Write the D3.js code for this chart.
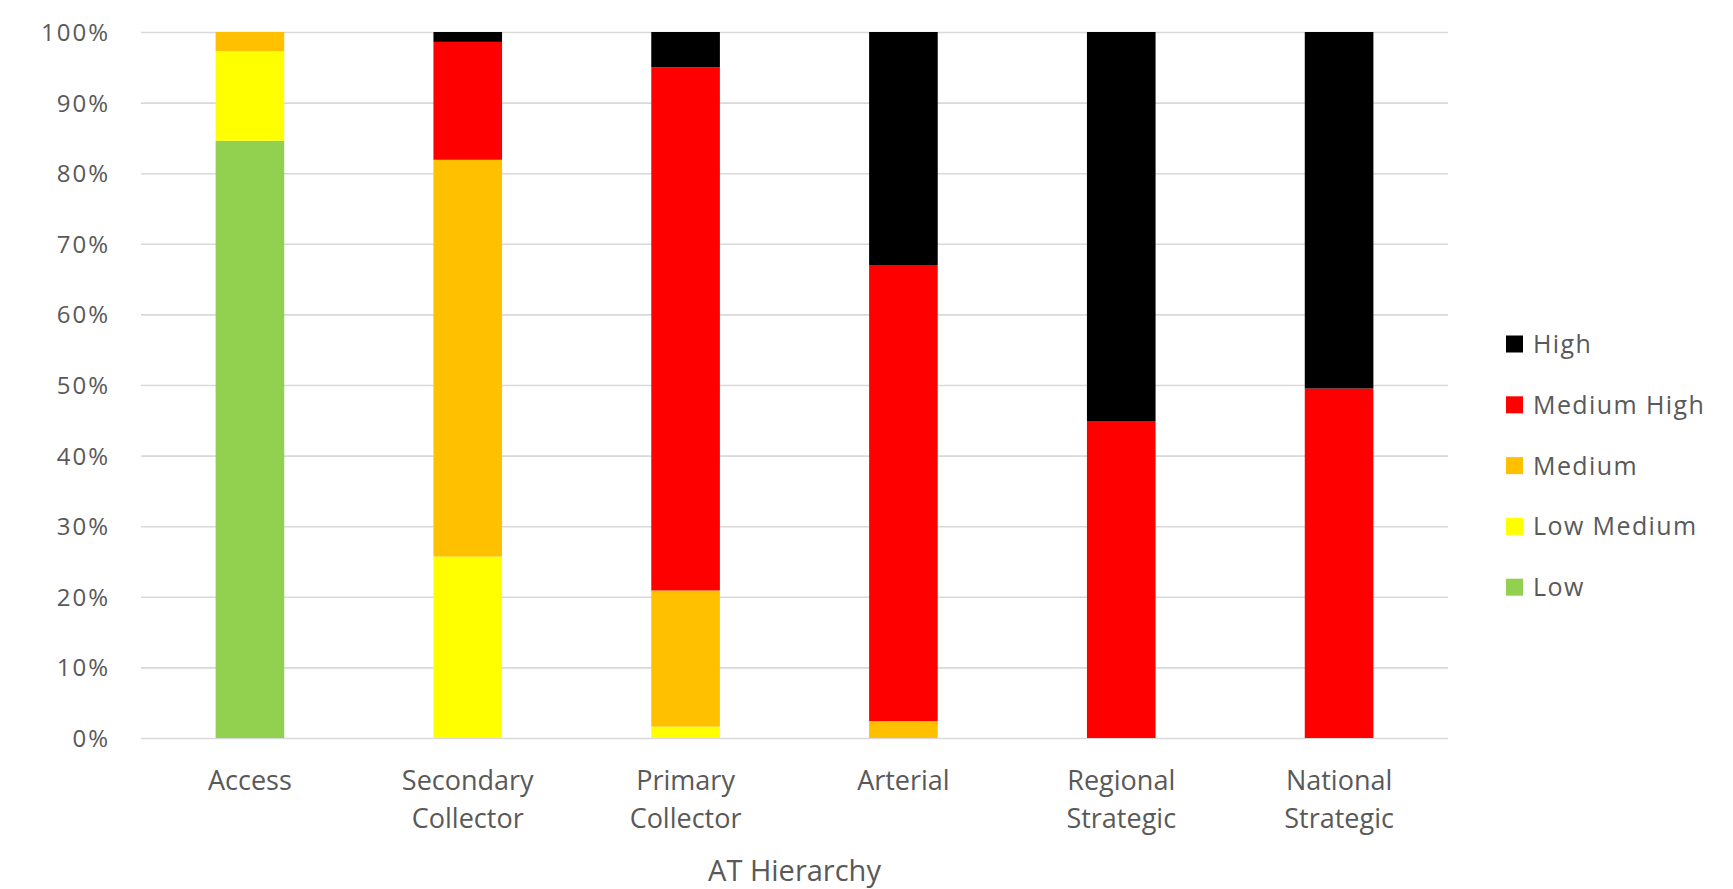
<!DOCTYPE html>
<html>
<head>
<meta charset="utf-8">
<script src="https://cdn.jsdelivr.net/npm/d3@7/dist/d3.min.js"></script>
<style>
  html, body { margin: 0; padding: 0; background: #ffffff; }
  svg { display: block; }
  text { font-family: "Open Sans", "Noto Sans", sans-serif; fill: #595959; }
</style>
</head>
<body>
<svg id="chart" width="1733" height="889"></svg>
<script>
// ---- Data (percent of each category) ----
const categories = ["Access", "Secondary Collector", "Primary Collector", "Arterial", "Regional Strategic", "National Strategic"];
const categoryLines = [["Access"], ["Secondary", "Collector"], ["Primary", "Collector"], ["Arterial"], ["Regional", "Strategic"], ["National", "Strategic"]];
const seriesNames = ["Low", "Low Medium", "Medium", "Medium High", "High"];
const low        = [84.6, 0,    0,    0,    0,    0];
const lowMedium  = [12.7, 25.7, 1.6,  0,    0,    0];
const medium     = [2.7,  56.2, 19.3, 2.4,  0,    0];
const mediumHigh = [0,    16.7, 74.1, 64.6, 44.9, 49.5];
const high       = [0,    1.4,  5.0,  33.0, 55.1, 50.5];
const yTicks = [0, 10, 20, 30, 40, 50, 60, 70, 80, 90, 100];
const legendOrder = ["High", "Medium High", "Medium", "Low Medium", "Low"];
const axisTitle = "AT Hierarchy";

const seriesValues = { "Low": low, "Low Medium": lowMedium, "Medium": medium, "Medium High": mediumHigh, "High": high };
const colors = { "Low": "#92D050", "Low Medium": "#FFFF00", "Medium": "#FFC000", "Medium High": "#FF0000", "High": "#000000" };

const table = categories.map((c, i) => {
  const row = { category: c };
  seriesNames.forEach(s => row[s] = seriesValues[s][i]);
  return row;
});

const svg = d3.select("#chart");
const plot = { left: 141, right: 1448, top: 32, bottom: 738 };

const x = d3.scaleBand()
  .domain(categories)
  .range([plot.left, plot.right])
  .paddingInner(0.685)
  .paddingOuter(0.3425);

const y = d3.scaleLinear().domain([0, 100]).range([plot.bottom, plot.top]);

// gridlines
svg.append("g")
  .attr("transform", `translate(${plot.left},0)`)
  .call(d3.axisLeft(y).tickValues(yTicks).tickSize(-(plot.right - plot.left)).tickFormat(""))
  .call(g => g.select(".domain").remove())
  .call(g => g.selectAll("line").attr("stroke", "#d9d9d9").attr("stroke-width", 1.6));

// y tick labels
svg.append("g")
  .attr("transform", `translate(${plot.left},0)`)
  .call(d3.axisLeft(y).tickValues(yTicks).tickSize(0).tickPadding(31).tickFormat(d => d + "%"))
  .call(g => g.select(".domain").remove())
  .call(g => g.selectAll("text")
    .attr("fill", "#595959")
    .style("font-size", "24px")
    .style("letter-spacing", "2px")
    .attr("dy", "0.35em"));

// stacked bars
const stack = d3.stack().keys(seriesNames);
const stacked = stack(table);

svg.append("g").selectAll("g")
  .data(stacked)
  .join("g")
  .attr("fill", d => colors[d.key])
  .selectAll("rect")
  .data(d => d)
  .join("rect")
  .attr("x", d => x(d.data.category))
  .attr("width", x.bandwidth())
  .attr("y", d => y(d[1]))
  .attr("height", d => y(d[0]) - y(d[1]));

// category labels
const catG = svg.append("g");
categories.forEach((c, i) => {
  const t = catG.append("text")
    .attr("x", x(c) + x.bandwidth() / 2)
    .attr("y", 790)
    .attr("text-anchor", "middle")
    .style("font-size", "27px");
  categoryLines[i].forEach((line, j) => {
    t.append("tspan")
      .attr("x", x(c) + x.bandwidth() / 2)
      .attr("dy", j === 0 ? 0 : 38)
      .text(line);
  });
});

// axis title
svg.append("text")
  .attr("x", (plot.left + plot.right) / 2)
  .attr("y", 881)
  .attr("text-anchor", "middle")
  .style("font-size", "29px")
  .text(axisTitle);

// legend
const legend = svg.append("g").attr("transform", "translate(1506,344)");
const legendRow = legend.selectAll("g")
  .data(legendOrder)
  .join("g")
  .attr("transform", (d, i) => `translate(0,${i * 60.8})`);
legendRow.append("rect")
  .attr("x", 0).attr("y", -8.5)
  .attr("width", 17).attr("height", 17)
  .attr("fill", d => colors[d]);
legendRow.append("text")
  .attr("x", 27).attr("y", 0)
  .attr("dy", "0.36em")
  .style("font-size", "25px")
  .style("letter-spacing", "1.4px")
  .text(d => d);
</script>
</body>
</html>
